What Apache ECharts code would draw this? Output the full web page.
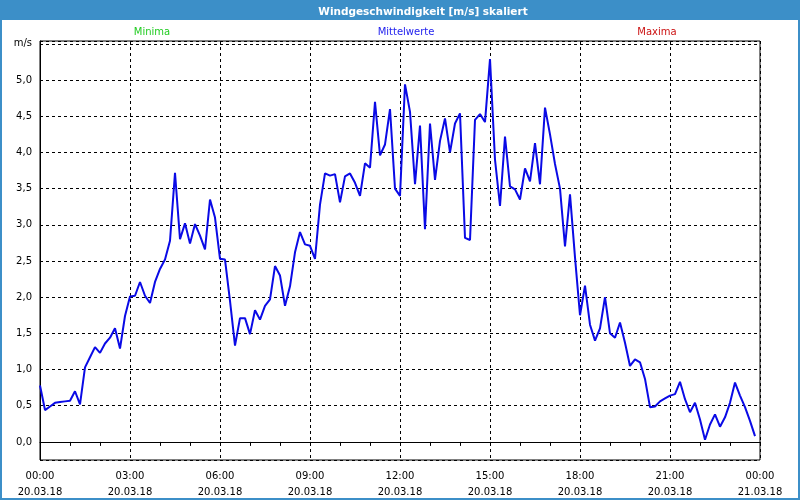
<!DOCTYPE html>
<html>
<head>
<meta charset="utf-8">
<script src="https://cdn.jsdelivr.net/npm/echarts@6/dist/echarts.min.js"></script>
<style>
html,body{margin:0;padding:0;background:#fff;}
#chart{width:800px;height:500px;}
</style>
</head>
<body>
<div id="chart"></div>
<script>
// 10-minute mean wind speed values, 20.03.18 00:00 .. 23:50
const startDate = '20.03.18';
const endDate = '21.03.18';
const stepMinutes = 10;
const values = [
  0.78, 0.44, 0.49, 0.54, 0.55, 0.56, 0.57, 0.70, 0.52, 1.03, 1.17, 1.31,
  1.23, 1.36, 1.44, 1.57, 1.29, 1.74, 2.01, 2.02, 2.21, 2.02, 1.92, 2.21,
  2.39, 2.52, 2.78, 3.72, 2.80, 3.02, 2.74, 3.01, 2.85, 2.66, 3.35, 3.10,
  2.53, 2.52, 1.95, 1.33, 1.71, 1.71, 1.49, 1.82, 1.69, 1.88, 1.97, 2.43,
  2.30, 1.88, 2.15, 2.62, 2.90, 2.73, 2.71, 2.53, 3.28, 3.71, 3.68, 3.70,
  3.31, 3.67, 3.71, 3.58, 3.40, 3.85, 3.79, 4.70, 3.96, 4.11, 4.60, 3.50,
  3.40, 4.94, 4.56, 3.56, 4.37, 2.94, 4.40, 3.62, 4.16, 4.47, 4.00, 4.40,
  4.54, 2.82, 2.79, 4.45, 4.53, 4.42, 5.29, 3.90, 3.26, 4.22, 3.53, 3.49,
  3.35, 3.78, 3.60, 4.13, 3.56, 4.62, 4.25, 3.84, 3.50, 2.70, 3.42, 2.55,
  1.75, 2.16, 1.62, 1.40, 1.57, 2.00, 1.50, 1.44, 1.65, 1.37, 1.05, 1.14,
  1.10, 0.87, 0.48, 0.49, 0.56, 0.60, 0.64, 0.66, 0.83, 0.59, 0.41, 0.54,
  0.31, 0.03, 0.24, 0.38, 0.21, 0.34, 0.54, 0.82, 0.64, 0.48, 0.29, 0.08
];
const legendNames = ['Minima', 'Mittelwerte', 'Maxima'];
const legendColors = ['#22cc22', '#2222ee', '#cc1111'];
const titleText = 'Windgeschwindigkeit [m/s] skaliert';
const unitLabel = 'm/s';

const seriesData = values.map((v, i) => [i * stepMinutes, v]);

function pad(n){ return (n < 10 ? '0' : '') + n; }

const chart = echarts.init(document.getElementById('chart'), null, {renderer: 'canvas'});
const font = 'DejaVu Sans';
const legendCenters = [147, 401, 652];

chart.setOption({
  animation: false,
  backgroundColor: '#ffffff',
  title: [
    {
      text: titleText,
      left: 418, top: 2, textAlign: 'center',
      textStyle: {color: '#ffffff', fontFamily: font, fontWeight: 'bold', fontSize: 10.5}
    }
  ].concat(legendNames.map((n, i) => ({
    text: n,
    left: legendCenters[i], top: 22, textAlign: 'center',
    textStyle: {color: legendColors[i], fontFamily: font, fontWeight: 'normal', fontSize: 10}
  }))),
  graphic: [
    {type: 'rect', z: -1, shape: {x: 0, y: 0, width: 800, height: 20}, style: {fill: '#3c8fc8'}},
    {type: 'rect', z: 100, shape: {x: 0, y: 0, width: 800, height: 500}, style: {fill: null, stroke: '#3c8fc8', lineWidth: 4}}
  ],
  grid: {
    left: 40, right: 40, top: 41, bottom: 39,
    show: true, borderColor: '#000', borderWidth: 1, backgroundColor: 'transparent'
  },
  xAxis: {
    type: 'value',
    min: 0, max: 1440, interval: 180,
    axisLine: {show: true, lineStyle: {color: '#000', width: 1}},
    axisTick: {show: true, length: 4, lineStyle: {color: '#000'}},
    minorTick: {show: true, splitNumber: 3, length: 4, lineStyle: {color: '#000'}},
    splitLine: {show: true, lineStyle: {color: '#000', type: [3, 3], width: 1}},
    axisLabel: {
      color: '#000', fontFamily: font, fontSize: 10, lineHeight: 16, margin: 8,
      showMinLabel: true, showMaxLabel: true,
      formatter: function(v){
        const h = Math.floor(v / 60) % 24, m = v % 60;
        return pad(h) + ':' + pad(m) + '\n' + (v >= 1440 ? endDate : startDate);
      }
    }
  },
  yAxis: {
    type: 'value',
    min: -0.25, max: 5.54, splitNumber: 11, minInterval: 0.5, maxInterval: 0.5,
    axisLine: {show: true, lineStyle: {color: '#000', width: 1}},
    axisTick: {show: false},
    splitLine: {show: true, lineStyle: {color: '#000', type: [3, 3], width: 1}},
    axisLabel: {
      color: '#000', fontFamily: font, fontSize: 10, margin: 8,
      formatter: function(v){
        if (Math.abs(v - 5.5) < 1e-6) return unitLabel;
        if (v < 0 || v > 5.5) return '';
        return v.toFixed(1).replace('.', ',');
      }
    }
  },
  series: [{
    name: legendNames[1],
    type: 'line',
    data: seriesData,
    showSymbol: false,
    symbol: 'none',
    lineStyle: {color: '#0a0ae6', width: 2},
    clip: true
  }]
});
</script>
</body>
</html>
